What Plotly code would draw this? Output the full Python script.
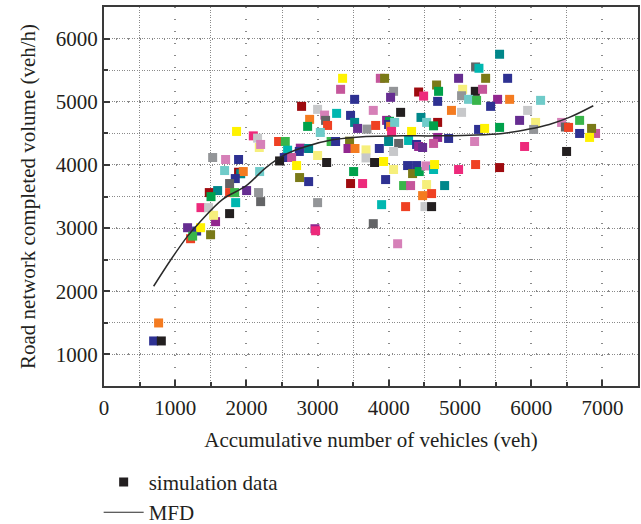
import plotly.graph_objects as go

DB = '#2e3192'; BK = '#231f20'; OR = '#f47b20'; RO = '#ef4123'; DR = '#9e0b0f'
PK = '#ed2a7b'; MP = '#c5569b'; LP = '#d680b8'; PU = '#662d91'; VI = '#92278f'
TE = '#00878a'; CY = '#00b7b0'; LC = '#6fcbc9'; GN = '#00a14b'; BG = '#39b54a'
OL = '#7a7a18'; YE = '#fff200'; LY = '#f6ef7c'; GR = '#939598'; DG = '#636466'
LG = '#c7c8ca'

sim_x = [
    3351, 3323, 3520, 2775, 3000, 3098, 3112, 3267, 3463, 2888, 3140, 2860, 3520, 3038,
    3562, 3694, 1862, 2097, 2157, 2181, 2200, 2452, 2546, 2579, 2757, 2874, 2743, 2532,
    2635, 2466, 3190, 3253, 3449, 3427, 3525, 3680, 3680, 3000, 3127, 2705, 1526, 1708,
    1890, 1694, 1890, 1920, 1956, 2186, 1844, 1764, 1764, 1835, 2003, 2171, 2200, 1849,
    2747, 2874, 3000, 3506, 3463, 3632, 1479, 1596, 1503, 1362, 1469, 1567, 1539, 1764,
    1174, 1301, 1357, 1216, 1245, 1497, 2963, 2972, 767, 697, 805,
    3899, 4236, 4508, 4601, 3782, 4124,
    5556, 5219, 5266, 3881, 3941, 4980, 5360, 5669, 4671, 4419, 4489, 4699, 4686, 4067,
    4025, 5037, 5215, 5317, 5022, 5121, 5233, 5528, 5697, 5430, 4880, 5022, 5950, 6132,
    3782, 4166, 3969, 4010, 3997, 4025, 3815, 4082, 4039, 4452, 4531, 4686, 4629, 4320,
    3997, 4138, 4278, 4686, 4840, 5205, 5261, 5346, 5556, 5837, 6062, 6034, 5907, 6427,
    6480, 6525, 6680, 6680, 6904, 6848, 6820, 6497, 3867, 4067, 4390, 4419, 4475, 4629,
    3800, 3927, 4067, 3955, 4264, 4390, 4334, 4428, 4522, 4629, 4643, 4980, 5219, 5556,
    4208, 4306, 4531, 4784, 4475, 4601,
]
sim_y = [
    5371, 5197, 5038, 4927, 4879, 4789, 4705, 4816, 4784, 4721, 4625, 4610, 4673, 4514,
    4578, 4567, 4530, 4460, 4424, 4276, 4324, 4371, 4371, 4233, 4265, 4260, 4213, 4117,
    4117, 4063, 4371, 4371, 4376, 4260, 4260, 4238, 4111, 4149, 4038, 3990, 4117, 4086,
    4086, 3911, 3884, 3860, 3895, 3895, 3784, 3705, 3562, 3562, 3594, 3562, 3419, 3403,
    3800, 3736, 3403, 3895, 3705, 3705, 3562, 3594, 3498, 3324, 3324, 3102, 3202, 3229,
    3006, 2953, 3006, 2832, 2873, 2895, 2990, 2958, 1498, 1213, 1213,
    3371, 3340, 3340, 3340, 3070, 2752,
    5752, 5551, 5530, 5371, 5371, 5371, 5371, 5371, 5265, 5154, 5090, 5165, 5006, 5165,
    5070, 5197, 5165, 5197, 5095, 5038, 5022, 5038, 5038, 4927, 4863, 4832, 4863, 5022,
    4863, 4832, 4705, 4690, 4640, 4610, 4625, 4673, 4530, 4752, 4673, 4673, 4619, 4530,
    4371, 4340, 4387, 4435, 4419, 4371, 4562, 4578, 4594, 4705, 4673, 4562, 4292, 4673,
    4600, 4594, 4705, 4498, 4498, 4578, 4435, 4213, 4260, 4213, 4324, 4292, 4276, 4340,
    4038, 4054, 3927, 3768, 3990, 3990, 3863, 3895, 3984, 3927, 4006, 3927, 4006, 3958,
    3673, 3673, 3689, 3673, 3514, 3546,
]
sim_color = [
    YE, MP, DB, DR, LG, LP, DG, CY, DB, OR, RO, GN, TE, LC,
    PU, GR, YE, PK, LG, LY, LP, RO, BG, CY, VI, TE, DB, DB,
    MP, BK, BG, DB, OL, VI, OR, LY, LG, LY, BK, YE, GR, LP,
    DB, LC, DR, TE, OR, LC, DB, DG, RO, BG, PU, GR, DG, CY,
    OL, DB, GR, GN, DR, PK, DR, TE, GN, PK, LG, VI, LY, BK,
    PU, DB, YE, RO, BG, OL, VI, PK, OR, DB, BK,
    CY, RO, LG, BK, DG, LP,
    TE, DG, CY, MP, OL, PU, OL, DB, OL, DR, PK, GN, DB, GR,
    PU, LY, BK, MP, GR, LC, BG, VI, OR, DB, OR, LG, LG, LC,
    LP, BK, VI, GN, DB, OR, RO, LC, PK, TE, LC, DR, GN, YE,
    TE, DG, CY, VI, DB, LP, DB, YE, GN, PU, LY, GR, PK, LP,
    DG, RO, BG, DB, MP, OL, YE, BK, DB, LG, DB, VI, PU, MP,
    BK, YE, LY, DB, DB, DB, OL, GN, LP, CY, YE, PK, RO, DR,
    BG, MP, LY, TE, OR, RO,
]

mfd_x = [697, 941, 1174, 1338, 1666, 1994, 2275, 2556, 2837, 3211, 3680,
         4194, 4663, 5131, 5598, 5973, 6254, 6535, 6872]
mfd_y = [2079, 2503, 2873, 3086, 3456, 3667, 3958, 4170, 4292, 4397, 4451,
         4460, 4460, 4471, 4498, 4567, 4641, 4752, 4937]

FONT = 'Liberation Serif'
FS = 21
TXT = '#231f20'

fig = go.Figure()
fig.add_trace(go.Scatter(
    x=sim_x, y=sim_y, mode='markers', showlegend=False,
    marker=dict(symbol='square', size=9, color=sim_color, line=dict(width=0)),
))
fig.add_trace(go.Scatter(
    x=mfd_x, y=mfd_y, mode='lines', showlegend=False, line_shape='spline',
    line=dict(color='#2a2a2a', width=1.5),
))
fig.add_trace(go.Scatter(
    x=[None], y=[None], mode='markers', name='simulation data',
    marker=dict(symbol='square', size=9, color=BK),
))
fig.add_trace(go.Scatter(
    x=[None], y=[None], mode='lines', name='MFD',
    line=dict(color='#2a2a2a', width=1.2),
))

axis_common = dict(
    showline=True, linecolor='#3a3a3a', linewidth=2, mirror=True,
    ticks='inside', ticklen=6, tickcolor='#3a3a3a', tickwidth=2,
    showgrid=True, gridcolor='#8a8a8a', gridwidth=1.5, griddash='1px,11px',
    zeroline=False, automargin=False,
    tickfont=dict(family=FONT, size=FS, color=TXT),
    minor=dict(dtick=500, ticks='inside', ticklen=4, tickcolor='#3a3a3a', tickwidth=1.5,
               showgrid=True, gridcolor='#8a8a8a', gridwidth=1, griddash='1px,1.5px'),
)

fig.update_xaxes(
    range=[0, 7500], dtick=1000, tick0=0, ticklabelstandoff=2,
    title=dict(text='Accumulative number of vehicles (veh)',
               font=dict(family=FONT, size=FS, color=TXT), standoff=13),
    **axis_common,
)
fig.update_yaxes(
    range=[500, 6500], tickvals=[1000, 2000, 3000, 4000, 5000, 6000],
    title=dict(text='Road network completed volume (veh/h)',
               font=dict(family=FONT, size=FS, color=TXT), standoff=14),
    **axis_common,
)

fig.update_layout(
    width=641, height=524,
    margin=dict(l=104, r=3, t=7, b=138, autoexpand=False),
    paper_bgcolor='white', plot_bgcolor='white',
    legend=dict(x=-0.01, y=-0.2, xanchor='left', yanchor='top',
                font=dict(family=FONT, size=FS, color=TXT), itemwidth=40,
                bgcolor='rgba(0,0,0,0)'),
    showlegend=True,
)

fig.write_html('out.html')
